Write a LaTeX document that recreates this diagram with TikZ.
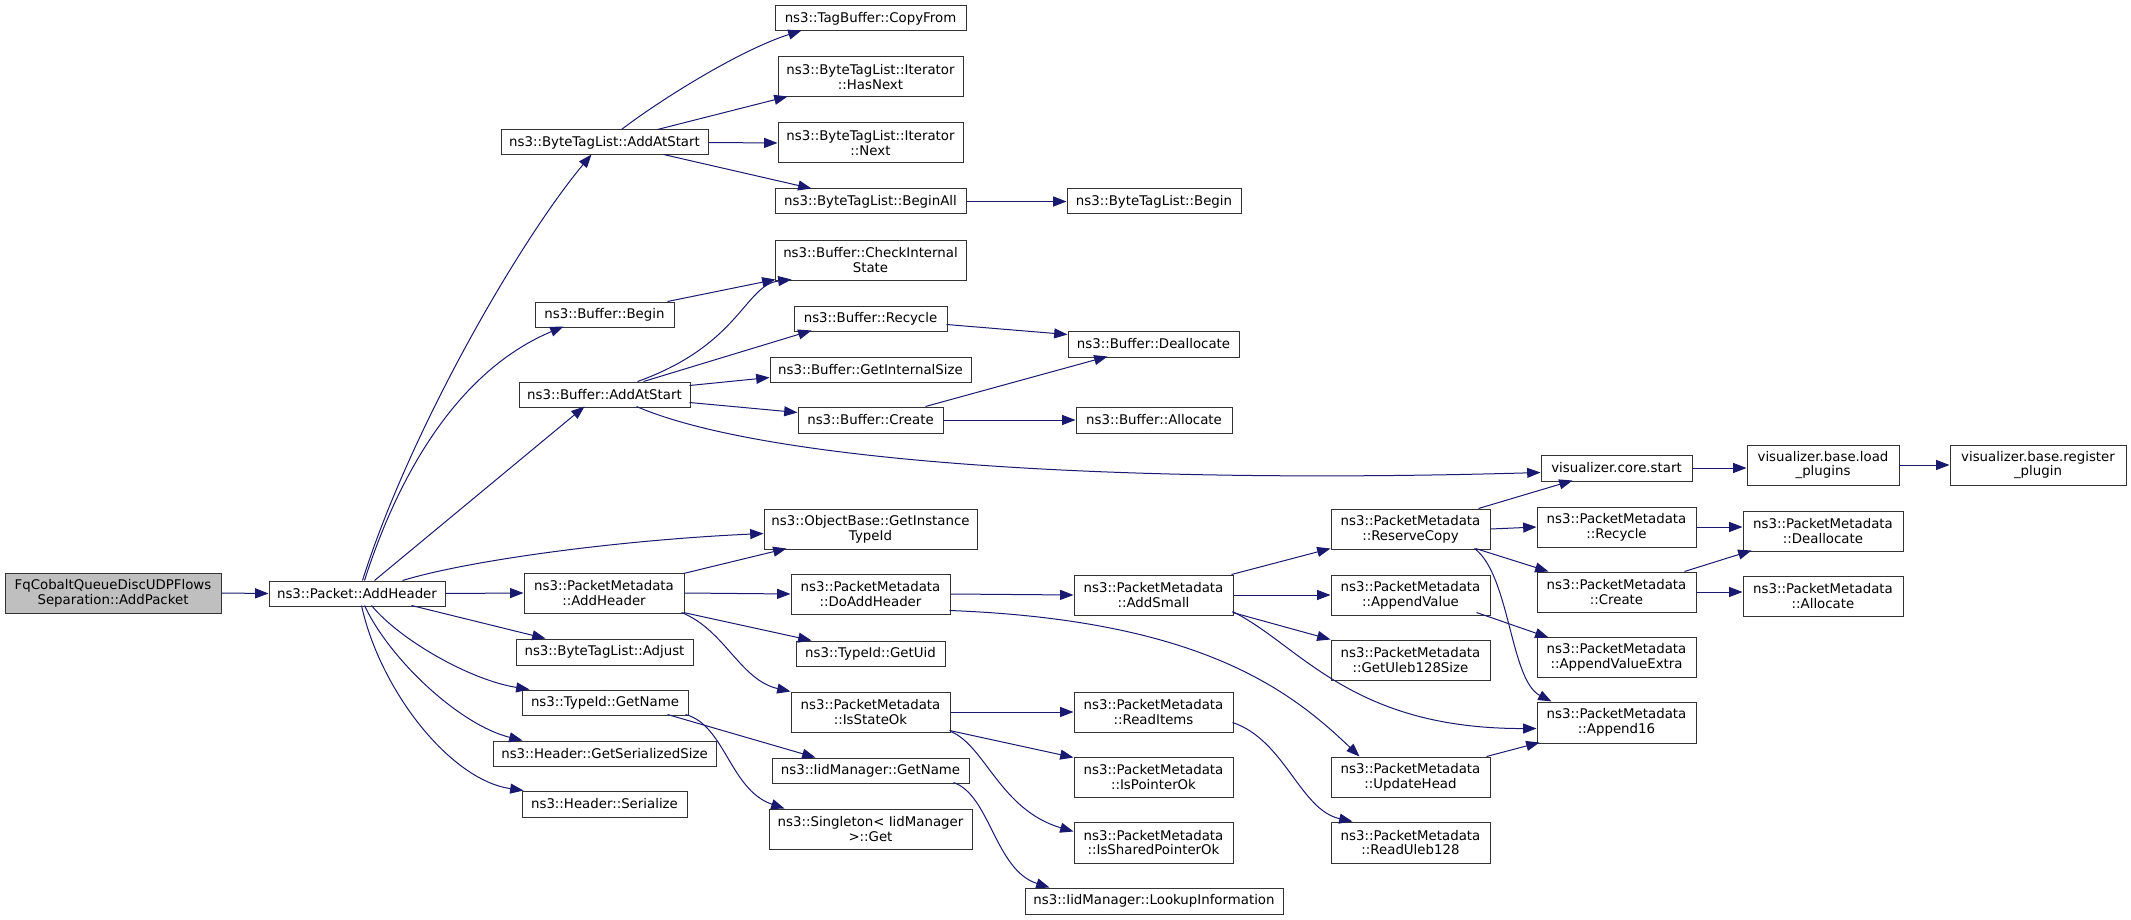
\documentclass[tikz,border=0pt]{standalone}
\usepackage{fontspec}
\newfontfamily\dv{DejaVu Sans}
\usetikzlibrary{arrows.meta,calc}
\definecolor{navy}{HTML}{191970}
\definecolor{nodeline}{HTML}{333333}
\tikzset{
  box/.style={draw=nodeline, line width=0.75pt, fill=white, inner sep=0pt, align=center,
              font=\dv\fontsize{10}{11}\selectfont},
  rootbox/.style={fill=black!25},
  edge/.style={draw=navy, line width=0.75pt, -{Triangle[length=10pt,width=7.5pt,fill=navy]}},
}
\newcommand{\bx}[7][]{%
  \pgfmathsetmacro{\bxw}{(#5-#3)*0.75}%
  \pgfmathsetmacro{\bxh}{(#6-#4)*0.75}%
  \node[box,#1,minimum width=\bxw pt,minimum height=\bxh pt] (#2) at ({(#3+#5)/2},{(#4+#6)/2}) {#7};}
\begin{document}
\begin{tikzpicture}[x=0.75pt,y=-0.75pt]
\fill[white] (0,0) rectangle (2131,920);
\useasboundingbox (0,0) rectangle (2131,920);
% nodes
\bx[rootbox]{root}{5}{573}{221}{613}{FqCobaltQueueDiscUDPFlows\\Separation::AddPacket}
\bx{pah}{269}{581}{445}{606}{ns3::Packet::AddHeader}
\bx{btlaas}{501}{130}{708}{155}{ns3::ByteTagList::AddAtStart}
\bx{tbcf}{775}{6}{966}{31}{ns3::TagBuffer::CopyFrom}
\bx{hasn}{778}{57}{963}{97}{ns3::ByteTagList::Iterator\\::HasNext}
\bx{next}{778}{123}{963}{163}{ns3::ByteTagList::Iterator\\::Next}
\bx{ball}{775}{189}{966}{214}{ns3::ByteTagList::BeginAll}
\bx{btlb}{1067}{189}{1241}{214}{ns3::ByteTagList::Begin}
\bx{cis}{775}{240}{966}{280}{ns3::Buffer::CheckInternal\\State}
\bx{bb}{535}{302}{674}{327}{ns3::Buffer::Begin}
\bx{baas}{519}{382}{690}{407}{ns3::Buffer::AddAtStart}
\bx{brec}{794}{306}{947}{331}{ns3::Buffer::Recycle}
\bx{gis}{770}{357}{971}{382}{ns3::Buffer::GetInternalSize}
\bx{bcr}{798}{407}{943}{433}{ns3::Buffer::Create}
\bx{bdeal}{1068}{331}{1239}{357}{ns3::Buffer::Deallocate}
\bx{balloc}{1076}{407}{1232}{433}{ns3::Buffer::Allocate}
\bx{vcs}{1541}{455}{1692}{481}{visualizer.core.start}
\bx{vlp}{1747}{445}{1899}{485}{visualizer.base.load\\\_plugins}
\bx{vrp}{1950}{445}{2126}{485}{visualizer.base.register\\\_plugin}
\bx{git}{764}{509}{977}{549}{ns3::ObjectBase::GetInstance\\TypeId}
\bx{pmah}{524}{573}{684}{613}{ns3::PacketMetadata\\::AddHeader}
\bx{dah}{791}{574}{950}{614}{ns3::PacketMetadata\\::DoAddHeader}
\bx{asm}{1074}{575}{1233}{615}{ns3::PacketMetadata\\::AddSmall}
\bx{rc}{1331}{509}{1490}{549}{ns3::PacketMetadata\\::ReserveCopy}
\bx{av}{1331}{575}{1490}{615}{ns3::PacketMetadata\\::AppendValue}
\bx{pmrec}{1537}{507}{1696}{547}{ns3::PacketMetadata\\::Recycle}
\bx{pmcr}{1537}{572}{1696}{612}{ns3::PacketMetadata\\::Create}
\bx{pmdeal}{1743}{511}{1903}{551}{ns3::PacketMetadata\\::Deallocate}
\bx{pmalloc}{1743}{576}{1903}{616}{ns3::PacketMetadata\\::Allocate}
\bx{adj}{516}{639}{693}{665}{ns3::ByteTagList::Adjust}
\bx{tgn}{522}{690}{688}{715}{ns3::TypeId::GetName}
\bx{gss}{493}{741}{716}{766}{ns3::Header::GetSerializedSize}
\bx{ser}{522}{791}{687}{817}{ns3::Header::Serialize}
\bx{uid}{796}{641}{945}{666}{ns3::TypeId::GetUid}
\bx{iso}{791}{692}{950}{732}{ns3::PacketMetadata\\::IsStateOk}
\bx{ign}{772}{758}{969}{783}{ns3::IidManager::GetName}
\bx{sg}{769}{809}{972}{849}{ns3::Singleton< IidManager\\>::Get}
\bx{li}{1025}{888}{1283}{914}{ns3::IidManager::LookupInformation}
\bx{ri}{1074}{692}{1233}{732}{ns3::PacketMetadata\\::ReadItems}
\bx{ipo}{1074}{757}{1233}{797}{ns3::PacketMetadata\\::IsPointerOk}
\bx{ispo}{1074}{822}{1233}{863}{ns3::PacketMetadata\\::IsSharedPointerOk}
\bx{guls}{1331}{640}{1490}{680}{ns3::PacketMetadata\\::GetUleb128Size}
\bx{uh}{1331}{757}{1490}{797}{ns3::PacketMetadata\\::UpdateHead}
\bx{ru}{1331}{822}{1490}{863}{ns3::PacketMetadata\\::ReadUleb128}
\bx{ave}{1537}{637}{1696}{677}{ns3::PacketMetadata\\::AppendValueExtra}
\bx{a16}{1537}{702}{1696}{743}{ns3::PacketMetadata\\::Append16}
% edges
\draw[edge] (root.east) -- (pah.west);
\draw[edge] ($(pah.north west)+(94,0)$) .. controls (410,430) and (520,240) .. ($(btlaas.north west)+(91,25)$);
\draw[edge] ($(pah.north west)+(96,0)$) .. controls (400,470) and (460,370) .. ($(bb.north west)+(29,25)$);
\draw[edge] ($(pah.north west)+(106,0)$) -- ($(baas.north west)+(66,25)$);
\draw[edge] ($(pah.north west)+(134,0)$) .. controls (470,560) and (620,540) .. ($(git.north west)+(0,25)$);
\draw[edge] (pah.east) -- (pmah.west);
\draw[edge] ($(pah.north west)+(143,25)$) -- ($(adj.north west)+(30,0)$);
\draw[edge] ($(pah.north west)+(103,25)$) .. controls (400,640) and (470,680) .. ($(tgn.north west)+(8,0)$);
\draw[edge] ($(pah.north west)+(96,25)$) .. controls (390,660) and (460,725) .. ($(gss.north west)+(30,0)$);
\draw[edge] ($(pah.north west)+(93,25)$) .. controls (380,690) and (450,780) .. ($(ser.north west)+(2,0)$);
\draw[edge] ($(btlaas.north west)+(121,0)$) .. controls (660,100) and (740,50) .. ($(tbcf.north west)+(27,25)$);
\draw[edge] ($(btlaas.north west)+(157,0)$) -- ($(hasn.north west)+(10,40)$);
\draw[edge] (btlaas.east) -- (next.west);
\draw[edge] ($(btlaas.north west)+(163,25)$) -- ($(ball.north west)+(37,0)$);
\draw[edge] (ball.east) -- (btlb.west);
\draw[edge] ($(bb.north west)+(133,0)$) -- ($(cis.north west)+(1,40)$);
\draw[edge] ($(baas.north west)+(119,0)$) .. controls (740,345) and (745,285) .. ($(cis.north west)+(17,40)$);
\draw[edge] ($(baas.north west)+(125,0)$) -- ($(brec.north west)+(18,25)$);
\draw[edge] ($(baas.north west)+(171,4)$) -- ($(gis.north west)+(0,21)$);
\draw[edge] ($(baas.north west)+(171,21)$) -- ($(bcr.north west)+(0,6)$);
\draw[edge] ($(baas.north west)+(118,25)$) .. controls (760,460) and (1100,485) .. ($(vcs.north west)+(0,18)$);
\draw[edge] ($(brec.north west)+(153,19)$) -- ($(bdeal.north west)+(0,4)$);
\draw[edge] ($(bcr.north west)+(128,0)$) -- ($(bdeal.north west)+(40,26)$);
\draw[edge] (bcr.east) -- (balloc.west);
\draw[edge] (vcs.east) -- (vlp.west |- vcs.east);
\draw[edge] (vlp.east) -- (vrp.west);
\draw[edge] ($(pmah.north west)+(160,1)$) -- ($(git.north west)+(23,40)$);
\draw[edge] (pmah.east) -- (dah.west);
\draw[edge] ($(pmah.north west)+(160,40)$) -- ($(uid.north west)+(16,0)$);
\draw[edge] ($(pmah.north west)+(158,40)$) .. controls (725,630) and (740,680) .. ($(iso.north west)+(0,0)$);
\draw[edge] (dah.east) -- (asm.west);
\draw[edge] ($(dah.north west)+(159,37)$) .. controls (1200,620) and (1290,690) .. ($(uh.north west)+(29,0)$);
\draw[edge] ($(asm.north west)+(158,0)$) -- ($(rc.north west)+(0,40)$);
\draw[edge] (asm.east) -- (av.west);
\draw[edge] ($(asm.north west)+(159,38)$) -- ($(guls.north west)+(0,0)$);
\draw[edge] ($(asm.north west)+(159,37)$) .. controls (1300,645) and (1350,729) .. ($(a16.north west)+(0,27)$);
\draw[edge] ($(rc.north west)+(148,0)$) -- ($(vcs.north west)+(32,26)$);
\draw[edge] (rc.east) -- (pmrec.west);
\draw[edge] ($(rc.north west)+(145,40)$) -- ($(pmcr.north west)+(12,0)$);
\draw[edge] ($(rc.north west)+(144,40)$) .. controls (1510,575) and (1510,680) .. ($(a16.north west)+(15,0)$);
\draw[edge] (pmrec.east) -- (pmdeal.west |- pmrec.east);
\draw[edge] ($(pmcr.north west)+(148,0)$) -- ($(pmdeal.north west)+(9,40)$);
\draw[edge] (pmcr.east) -- (pmalloc.west |- pmcr.east);
\draw[edge] ($(av.north west)+(146,38)$) -- ($(ave.north west)+(12,1)$);
\draw[edge] ($(uh.north west)+(156,0)$) -- ($(a16.north west)+(3,41)$);
\draw[edge] (iso.east) -- (ri.west);
\draw[edge] ($(iso.north west)+(159,39)$) -- ($(ipo.north west)+(0,1)$);
\draw[edge] ($(iso.north west)+(160,40)$) .. controls (985,745) and (1000,810) .. ($(ispo.north west)+(0,10)$);
\draw[edge] ($(ri.north west)+(159,31)$) .. controls (1285,740) and (1300,810) .. ($(ru.north west)+(22,0)$);
\draw[edge] ($(tgn.north west)+(146,25)$) -- ($(ign.north west)+(44,0)$);
\draw[edge] ($(tgn.north west)+(164,25)$) .. controls (725,725) and (730,790) .. ($(sg.north west)+(16,0)$);
\draw[edge] ($(ign.north west)+(182,25)$) .. controls (990,795) and (995,870) .. ($(li.north west)+(25,0)$);
\end{tikzpicture}
\end{document}
